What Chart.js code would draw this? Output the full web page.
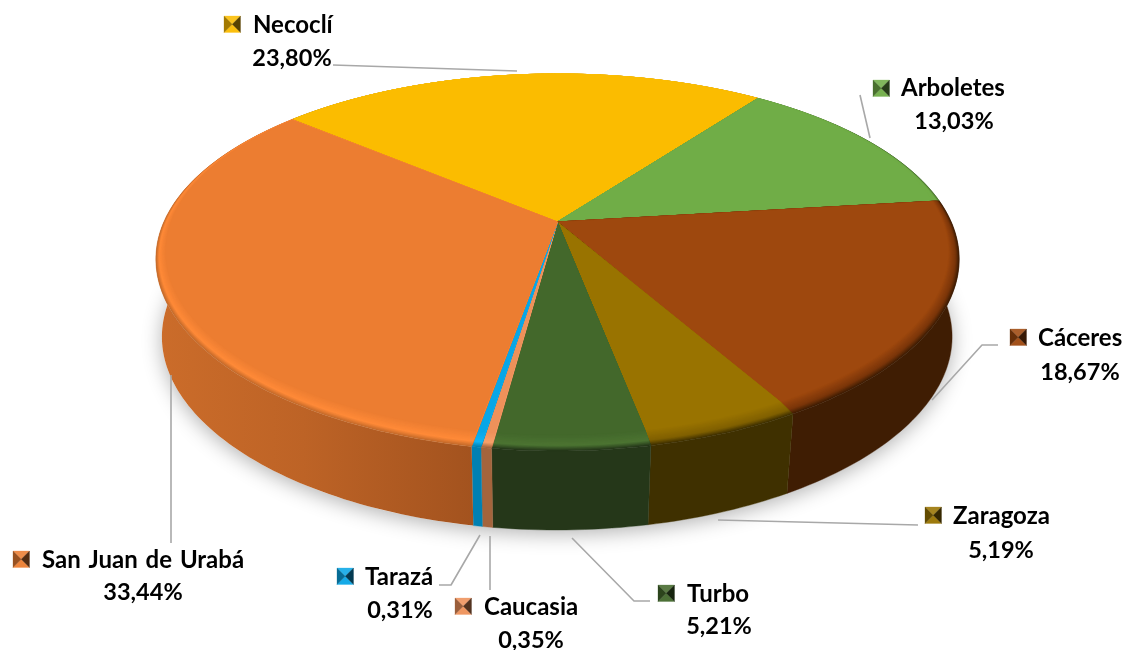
<!DOCTYPE html>
<html><head><meta charset="utf-8">
<style>html,body{margin:0;padding:0;background:#fff}canvas{display:block}</style>
<script src="https://cdn.jsdelivr.net/npm/chart.js@4"></script>
</head><body><div style="width:1128px;height:650px"><canvas id="c" width="1128" height="650"></canvas></div>
<script>
const categories = ["Necoclí","Arboletes","Cáceres","Zaragoza","Turbo","Caucasia","Tarazá","San Juan de Urabá"];
const shares = [23.80,13.03,18.67,5.19,5.21,0.35,0.31,33.44];
const shareLabels = ["23,80%","13,03%","18,67%","5,19%","5,21%","0,35%","0,31%","33,44%"];
const topColors = ["#FBBC00","#70AD47","#9E480E","#997300","#43682B","#EE915A","#09A6E6","#EC7D31"];
const rimColors = ["#FBBC00","#70AD47","#7A3509","#806000","#4C7432","#F7A06A","#10B4F5","#FF8A38"];
const edgeColors = ["#A67C00","#4A7230","#3F1D03","#3F3000","#253719","#A4643C","#0080B2","#C46A2A"];
const wallColors = ["#A67C00","#4A7230","#3F1D03","#3F3000","#253719","#A4643C","#0080B2","#B05A22"];

// geometry of the tilted disc: apex x/y, half-width factor, up / down reach
const flat = {x:557,y:222,b:386,up:148,down:213};
const outer = {x:557.5,y:222,b:393.7,up:148,down:229};
const floor = {x:557,y:301,b:388,up:151,down:229};
const START = -49.5;
const BEVEL = 12;
const RIM_AT = 0.68;

function par(g){const k=(g.up-g.down)/(g.up+g.down);return {...g,k,a:g.up*(1-k)};}
function lerpG(g1,g2,t){const o={};for(const n of ['x','y','b','up','down'])o[n]=g1[n]+(g2[n]-g1[n])*t;return o;}
function pt(g,ang){const u=Math.cos(ang),v=Math.sin(ang);return [g.x+g.b*u/(1+0.92*g.k*v),g.y+g.a*v/(1+g.k*v)];}
function hex(c){return [1,3,5].map(i=>parseInt(c.substr(i,2),16));}
function mix(c1,c2,t){const a=hex(c1),b=hex(c2);return 'rgb('+a.map((x,i)=>Math.round(x+(b[i]-x)*t)).join(',')+')';}
function wedge(ctx,g,a0,a1){
  const n=Math.max(2,Math.ceil((a1-a0)/0.02));
  ctx.beginPath();ctx.moveTo(g.x,g.y);
  for(let i=0;i<=n;i++){const p=pt(g,a0+(a1-a0)*i/n);ctx.lineTo(p[0],p[1]);}
  ctx.closePath();
}
const F=par(flat),O=par(outer),B=par(floor);

Chart.ArcElement.prototype.draw=function(ctx){
  const {startAngle:a0,endAngle:a1}=this.getProps(['startAngle','endAngle']);
  const i=this._i;
  ctx.save();
  for(let s=BEVEL;s>=0;s--){
    const t=s/BEVEL;
    const g=s===0?F:par(lerpG(flat,outer,t));
    let col;
    if(t>RIM_AT) col=mix(rimColors[i],edgeColors[i],(t-RIM_AT)/(1-RIM_AT));
    else col=mix(topColors[i],rimColors[i],t/RIM_AT);
    wedge(ctx,g,a0,a1);
    ctx.fillStyle=col;ctx.strokeStyle=col;ctx.lineWidth=0.5;ctx.fill();ctx.stroke();
  }
  ctx.restore();
};

function drawWall(ctx,el,i){
  const {startAngle:a0,endAngle:a1}=el.getProps(['startAngle','endAngle']);
  const n=Math.max(2,Math.ceil((a1-a0)/0.02));
  ctx.beginPath();
  for(let k=0;k<=n;k++){const p=pt(O,a0+(a1-a0)*k/n);k?ctx.lineTo(p[0],p[1]):ctx.moveTo(p[0],p[1]);}
  for(let k=n;k>=0;k--){const p=pt(B,a0+(a1-a0)*k/n);ctx.lineTo(p[0],p[1]);}
  ctx.closePath();
  let fill=wallColors[i];
  if(i===categories.length-1){
    const gr=ctx.createLinearGradient(160,0,480,0);
    gr.addColorStop(0,'#CB6C2A');gr.addColorStop(0.45,'#BD6326');gr.addColorStop(1,'#A2521E');
    fill=gr;
  }
  ctx.fillStyle=fill;ctx.strokeStyle=typeof fill==='string'?fill:'#B05A22';ctx.lineWidth=0.4;ctx.fill();
  if(typeof fill==='string')ctx.stroke();
}

const labelLayout = [
 {ix:224,iy:16,nx:253,ny:33,px:292,py:66,line:[[333,65],[517,71]]},
 {ix:873,iy:80,nx:901,ny:96,px:954,py:129,line:[[860,95],[870,138]]},
 {ix:1010,iy:329,nx:1038,ny:346,px:1080,py:380,line:[[998,345],[982,345],[932,400]]},
 {ix:925,iy:507,nx:953,ny:524,px:1001,py:558,line:[[918,525],[718,520]]},
 {ix:658,iy:585,nx:687,ny:602,px:719,py:634,line:[[572,538],[634,601],[650,601]]},
 {ix:455,iy:598,nx:484,ny:615,px:531,py:648,line:[[490,536],[490,590]]},
 {ix:337,iy:568,nx:365,ny:585,px:400,py:618,line:[[480,535],[451,585],[439,585]]},
 {ix:13,iy:551,nx:42,ny:568,px:143,py:600,line:[[171,375],[171,543]]}
];
function icon(ctx,x,y,c){
  const s=16.5,cx=x+s/2,cy=y+s/2;
  const tri=(p,col)=>{ctx.beginPath();ctx.moveTo(cx,cy);ctx.lineTo(p[0],p[1]);ctx.lineTo(p[2],p[3]);ctx.closePath();ctx.fillStyle=col;ctx.strokeStyle=col;ctx.lineWidth=.3;ctx.fill();ctx.stroke();};
  tri([x,y,x+s,y],mix(c,'#FFFFFF',0.12));
  tri([x,y+s,x+s,y+s],mix(c,'#FFFFFF',0.05));
  tri([x,y,x,y+s],mix(c,'#000000',0.35));
  tri([x+s,y,x+s,y+s],mix(c,'#000000',0.65));
}
const pie3d={
  id:'pie3d',
  beforeDatasetDraw(chart,args){
    const ctx=chart.ctx,meta=args.meta;
    meta.data.forEach((el,i)=>{el._i=i;});
    ctx.save();
    ctx.shadowColor='rgba(0,0,0,0.3)';ctx.shadowBlur=20;ctx.shadowOffsetX=0;ctx.shadowOffsetY=4;
    ctx.beginPath();
    for(let k=0;k<=360;k++){const p=pt(B,k*Math.PI/180);k?ctx.lineTo(p[0],p[1]):ctx.moveTo(p[0],p[1]);}
    ctx.closePath();ctx.fillStyle='#fff';ctx.fill();
    ctx.restore();
    ctx.save();
    meta.data.forEach((el,i)=>drawWall(ctx,el,i));
    ctx.restore();
  },
  afterDraw(chart){
    const ctx=chart.ctx;
    ctx.save();
    ctx.strokeStyle='#A8A8A8';ctx.lineWidth=1.6;ctx.lineJoin='round';
    labelLayout.forEach(l=>{ctx.beginPath();l.line.forEach((p,k)=>k?ctx.lineTo(p[0],p[1]):ctx.moveTo(p[0],p[1]));ctx.stroke();});
    ctx.textBaseline='alphabetic';
    labelLayout.forEach((l,i)=>{
      icon(ctx,l.ix,l.iy,topColors[i]);
      ctx.fillStyle='#000';
      ctx.font='bold 24px Lato, "Open Sans", sans-serif';ctx.wordSpacing='2px';
      ctx.textAlign='left';ctx.fillText(categories[i],l.nx,l.ny);
      ctx.font='bold 23.5px Lato, "Open Sans", sans-serif';ctx.wordSpacing='0px';
      ctx.textAlign='center';ctx.fillText(shareLabels[i],l.px,l.py);
    });
    ctx.restore();
  }
};
new Chart(document.getElementById('c'),{
  type:'pie',
  data:{labels:categories,datasets:[{data:shares,backgroundColor:topColors,borderWidth:0}]},
  options:{responsive:false,animation:false,rotation:START,
    plugins:{legend:{display:false},tooltip:{enabled:false}}},
  plugins:[pie3d]
});
</script></body></html>
